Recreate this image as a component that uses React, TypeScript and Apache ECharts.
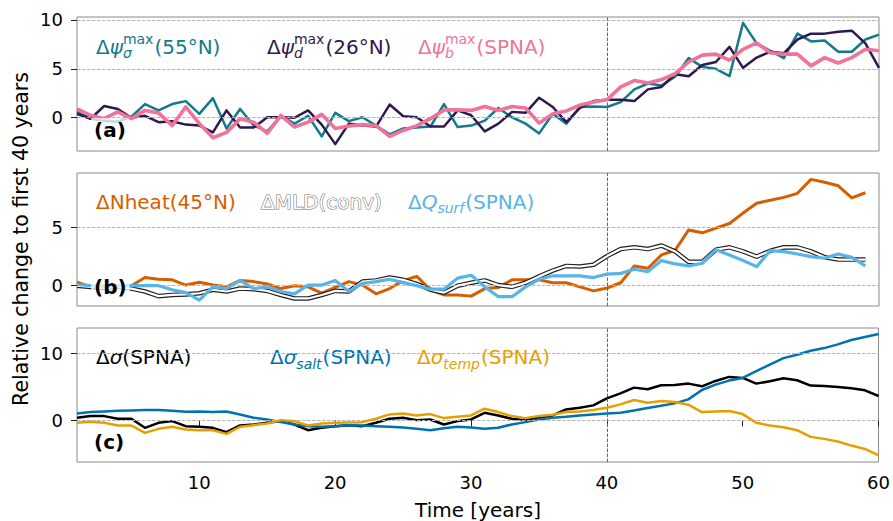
import React, { useEffect, useRef } from 'react';
import * as echarts from 'echarts';

// ---------- data (years 1..60) ----------
const xTicks = [10, 20, 30, 40, 50, 60];
const yTicksA = [0, 5, 10];
const yTicksB = [0, 5];
const yTicksC = [0, 10];
const splitYear = 40;

// panel (a)
const psiSigma = [0.6, -0.1, -0.3, -0.4, 0.1, 1.4, 0.75, 1.4, 1.7, 0.4, 2.0, -1.1, 0.9, -0.8, -1.4, 0.2, -0.6, 0.2, -1.9, 0.5,
  -0.35, 0.05, -0.8, -1.7, -1.1, -1.0, -0.9, 1.4, -0.95, -0.8, -0.3, 1.0, 0.05, -0.6, -1.6, 0.4, -0.6, 1.1, 1.15, 1.1,
  1.6, 2.9, 3.5, 3.3, 4.2, 6.1, 5.2, 5.0, 4.25, 9.7, 7.6, 6.85, 6.1, 8.6, 7.8, 7.9, 6.75, 6.75, 8.0, 8.5];
const psiD = [0.4, -0.1, 1.2, 0.9, 0.0, 0.2, -0.45, -0.35, -0.7, -0.8, -1.5, 0.75, -1.0, -1.0, 0.05, 0.05, 0.0, 0.75, -0.7, -2.7,
  -0.6, -0.8, -0.9, 1.35, 0.15, 0.05, -0.9, -0.9, 0.75, 0.25, -1.4, -0.6, 0.6, 0.5, 2.05, 1.1, -0.45, 1.0, 1.7, 1.85,
  1.85, 1.7, 2.9, 3.15, 4.45, 4.25, 5.4, 5.7, 7.25, 5.1, 6.15, 6.75, 6.6, 8.0, 8.6, 8.6, 8.8, 8.9, 7.6, 5.1];
const psiB = [0.9, 0.25, -0.1, 0.6, -0.1, 0.75, 0.5, -0.8, 1.1, -0.6, -2.05, -1.5, -0.1, -0.45, -1.6, 0.25, -0.95, -0.45, 0.35, -1.1,
  -0.85, -0.7, -0.8, -1.9, -1.3, -0.8, -0.1, 0.8, 0.8, 0.75, 1.15, 0.75, 1.15, 1.0, -0.55, 0.4, 0.7, 1.3, 1.6, 1.85,
  3.15, 3.8, 3.55, 3.9, 4.5, 5.7, 6.4, 6.5, 5.9, 7.0, 7.65, 6.65, 6.5, 6.5, 5.3, 6.15, 5.6, 6.15, 7.0, 6.85];

// panel (b) (years 1..59)
const nheat = [0.3, -0.1, 0.0, -0.1, 0.0, 0.7, 0.55, 0.5, 0.05, 0.3, 0.05, -0.1, 0.45, 0.35, 0.15, -0.25, 0.0, -0.1, -0.65, -0.15,
  0.35, 0.05, -0.7, -0.25, 0.45, 0.8, -0.35, -0.8, -0.8, -0.9, -0.25, -0.15, 0.5, 0.5, 0.5, 0.25, 0.25, -0.1, -0.45, -0.2,
  0.25, 1.7, 1.5, 2.65, 3.05, 4.8, 4.55, 4.95, 5.35, 6.25, 7.1, 7.35, 7.6, 7.95, 9.15, 8.9, 8.6, 7.55, 8.0];
const mld = [0.0, -0.1, -0.2, -0.1, -0.25, -0.5, -0.9, -0.8, -0.75, -0.65, -0.35, -0.5, -0.25, -0.3, -0.45, -0.8, -1.1, -1.1, -0.8, -0.45,
  -0.5, 0.35, 0.45, 0.7, 0.5, 0.15, -0.35, -0.6, 0.0, 0.25, 0.45, 0.05, -0.1, 0.25, 0.8, 1.3, 1.7, 1.65, 1.8, 2.55,
  3.15, 3.3, 3.15, 3.45, 2.95, 2.05, 2.05, 3.1, 3.3, 2.95, 2.5, 3.0, 3.3, 3.3, 2.95, 2.45, 2.25, 2.25, 2.25];
const qsurf = [0.1, 0.0, -0.1, 0.0, 0.0, 0.0, 0.0, -0.35, -0.6, -1.25, -0.1, -0.25, 0.45, -0.25, -0.1, -0.5, -0.7, 0.05, 0.05, 0.45,
  -0.5, 0.2, 0.35, 0.55, 0.25, 0.0, -0.3, -0.3, 0.65, 0.9, -0.1, -0.95, -0.95, -0.1, 0.55, 0.85, 0.85, 0.85, 0.7, 1.0,
  1.06, 1.41, 1.21, 2.16, 1.87, 1.7, 1.93, 3.1, 2.64, 2.16, 1.64, 3.02, 2.93, 2.73, 2.5, 2.36, 2.73, 2.44, 1.7];

// panel (c)
const sigma = [0.4, 0.65, 0.65, 0.25, 0.25, -1.1, -0.35, -0.1, -0.85, -0.95, -1.1, -1.75, -0.75, -0.6, -0.35, -0.1, -0.6, -1.45, -1.1, -0.85,
  -0.7, -0.85, -0.35, 0.25, 0.4, 0.05, 0.15, -0.6, -0.1, 0.15, 1.15, 0.75, 0.25, 0.05, 0.4, 0.75, 1.65, 1.9, 2.25, 3.3,
  4.05, 4.9, 4.65, 5.25, 5.3, 5.5, 5.1, 5.9, 6.5, 6.35, 5.5, 5.85, 6.3, 6.0, 5.2, 5.15, 5.0, 4.8, 4.5, 3.65];
const sigmaSalt = [1.05, 1.25, 1.35, 1.45, 1.5, 1.55, 1.55, 1.45, 1.3, 1.35, 1.25, 1.35, 0.9, 0.4, 0.15, -0.25, -0.6, -0.85, -0.95, -0.85,
  -0.7, -0.75, -0.85, -0.95, -1.05, -1.25, -1.45, -1.15, -0.95, -1.05, -1.25, -1.1, -0.6, -0.25, 0.15, 0.4, 0.55, 0.75, 0.9, 1.05,
  1.15, 1.5, 1.85, 2.2, 2.55, 3.15, 4.55, 5.35, 5.95, 6.35, 7.35, 8.35, 9.3, 9.8, 10.4, 10.8, 11.35, 12.0, 12.45, 12.9];
const sigmaTemp = [-0.35, -0.2, -0.35, -0.75, -0.75, -1.85, -1.25, -0.95, -1.35, -1.45, -1.45, -2.0, -0.95, -0.7, -0.45, 0.05, -0.1, -0.75, -0.45, -0.35,
  -0.3, -0.25, 0.25, 0.9, 1.05, 0.75, 0.95, 0.35, 0.55, 0.75, 1.75, 1.25, 0.65, 0.35, 0.65, 0.85, 1.25, 1.35, 1.55, 1.9,
  2.4, 3.05, 2.65, 2.9, 2.75, 2.35, 1.25, 1.35, 1.4, 0.95, -0.35, -0.75, -1.0, -1.45, -2.45, -2.75, -3.15, -3.75, -4.25, -5.2];

// ---------- styling ----------
const FONT = '"DejaVu Sans", sans-serif';
const C = {
  teal: '#127a8a', purple: '#2f1850', pink: '#f0739a',
  orange: '#d55e00', sky: '#56b4e9',
  black: '#000000', blue: '#0072b2', amber: '#e69f00',
};

let measureCtx: CanvasRenderingContext2D | null = null;
function tw(s: string, size: number, italic = false): number {
  if (!measureCtx) measureCtx = document.createElement('canvas').getContext('2d');
  if (!measureCtx) return s.length * size * 0.6;
  measureCtx.font = `${italic ? 'italic ' : ''}${size}px "DejaVu Sans"`;
  return measureCtx.measureText(s).width;
}

type Seg = { t?: string; it?: boolean; sub?: string; sup?: string; subIt?: boolean };
function legendText(x: number, y: number, color: string, segs: Seg[], extra: any = {}) {
  const MAIN = 20, SMALL = 14;
  const children: any[] = [];
  let cx = x;
  const mk = (text: string, px: number, py: number, size: number, italic: boolean) => ({
    type: 'text', x: px, y: py, silent: true,
    style: {
      text, fill: color, fontSize: size, fontFamily: FONT, fontStyle: italic ? 'italic' : 'normal',
      align: 'left', verticalAlign: 'middle', lineHeight: size, ...extra,
    },
  });
  for (const s of segs) {
    if (s.t) {
      children.push(mk(s.t, cx, y, MAIN, !!s.it));
      cx += tw(s.t, MAIN, !!s.it);
    } else {
      let w = 0;
      if (s.sup) { children.push(mk(s.sup, cx, y - 7.5, SMALL, false)); w = Math.max(w, tw(s.sup, SMALL)); }
      if (s.sub) { children.push(mk(s.sub, cx, y + 6.5, SMALL, !!s.subIt)); w = Math.max(w, tw(s.sub, SMALL, !!s.subIt)); }
      cx += w + 1;
    }
  }
  return { type: 'group', z: 100, children };
}

function panelLabel(text: string, x: number, y: number) {
  return {
    type: 'text', x, y, z: 100, silent: true,
    style: {
      text, fill: '#000', fontSize: 20, fontWeight: 'bold', fontFamily: FONT,
      align: 'left', verticalAlign: 'middle',
      backgroundColor: 'rgba(255,255,255,0.72)', padding: [2, 3, 2, 3],
    },
  };
}

const toPairs = (vals: number[]) => vals.map((v, i) => [i + 1, v]);

function lineSeries(name: string, vals: number[], gi: number, color: string, width: number, z: number) {
  return {
    type: 'line', name, xAxisIndex: gi, yAxisIndex: gi, data: toPairs(vals),
    showSymbol: false, symbol: 'none', silent: true, z,
    lineStyle: { color, width, join: 'round' },
  };
}

function gridLines(gi: number, ticks: number[]) {
  return {
    type: 'line', xAxisIndex: gi, yAxisIndex: gi, data: [], silent: true, z: 1,
    markLine: {
      silent: true, symbol: ['none', 'none'], label: { show: false }, animation: false,
      lineStyle: { color: '#b5b5b5', type: [3.5, 1.5], width: 1 },
      data: [
        ...ticks.map((v) => ({ yAxis: v })),
        { xAxis: splitYear, lineStyle: { color: '#666', type: [3.5, 1.5], width: 1 } },
      ],
    },
  };
}

export default function App() {
  const ref = useRef<HTMLDivElement>(null);
  useEffect(() => {
    document.body.style.margin = '0';
    if (!ref.current) return;
    const chart = echarts.init(ref.current, undefined, { renderer: 'svg' });
    const L = 77, R = 14;
    const grids = [
      { left: L, right: R, top: 17, height: 134 },
      { left: L, right: R, top: 173, height: 133 },
      { left: L, right: R, top: 328, height: 134 },
    ].map((g) => ({ ...g, show: true, borderColor: '#8a8a8a', borderWidth: 1, backgroundColor: 'transparent' }));

    const yRanges = [[-3.4, 10.3], [-1.75, 9.7], [-6.2, 13.8]];
    const yTicks = [yTicksA, yTicksB, yTicksC];

    const xAxes = [0, 1, 2].map((i) => ({
      type: 'value', gridIndex: i, min: 1, max: 60,
      axisLine: { show: false }, splitLine: { show: false },
      axisTick: i === 2 ? { show: true, customValues: xTicks, length: 6, lineStyle: { color: '#222' } } : { show: false },
      axisLabel: i === 2 ? { show: true, customValues: xTicks, fontSize: 18, color: '#000', margin: 11, fontFamily: FONT } : { show: false },
    }));
    const yAxes = [0, 1, 2].map((i) => ({
      type: 'value', gridIndex: i, min: yRanges[i][0], max: yRanges[i][1],
      axisLine: { show: false }, splitLine: { show: false },
      axisTick: { show: true, customValues: yTicks[i], length: 6, lineStyle: { color: '#222' } },
      axisLabel: { show: true, customValues: yTicks[i], fontSize: 18, color: '#000', margin: 14, fontFamily: FONT },
    }));

    const series: any[] = [
      gridLines(0, yTicksA), gridLines(1, yTicksB), gridLines(2, yTicksC),
      lineSeries('psiSigma', psiSigma, 0, C.teal, 2.5, 3),
      lineSeries('psiD', psiD, 0, C.purple, 2.5, 4),
      lineSeries('psiB', psiB, 0, C.pink, 3.6, 5),
      lineSeries('Nheat', nheat, 1, C.orange, 3, 3),
      lineSeries('MLD outline', mld, 1, '#222', 4.6, 4),
      lineSeries('MLD', mld, 1, '#ffffff', 2.2, 5),
      lineSeries('Qsurf', qsurf, 1, C.sky, 3.2, 6),
      lineSeries('sigma', sigma, 2, C.black, 2.5, 3),
      lineSeries('sigmaSalt', sigmaSalt, 2, C.blue, 2.5, 4),
      lineSeries('sigmaTemp', sigmaTemp, 2, C.amber, 2.5, 5),
    ];

    const graphic: any[] = [
      legendText(96, 46.7, C.teal, [{ t: 'Δ' }, { t: 'ψ', it: true }, { sup: 'max', sub: 'σ', subIt: true }, { t: '(55°N)' }]),
      legendText(267, 46.7, C.purple, [{ t: 'Δ' }, { t: 'ψ', it: true }, { sup: 'max', sub: 'd', subIt: true }, { t: '(26°N)' }]),
      legendText(418, 46.7, C.pink, [{ t: 'Δ' }, { t: 'ψ', it: true }, { sup: 'max', sub: 'b', subIt: true }, { t: '(SPNA)' }]),
      legendText(96, 201.7, C.orange, [{ t: 'ΔNheat(45°N)' }]),
      legendText(261, 201.7, '#ffffff', [{ t: 'ΔMLD(conv)' }], { stroke: '#707070', lineWidth: 1.1 }),
      legendText(408, 201.7, C.sky, [{ t: 'Δ' }, { t: 'Q', it: true }, { sub: 'surf', subIt: true }, { t: '(SPNA)' }]),
      legendText(96, 357.3, C.black, [{ t: 'Δ' }, { t: 'σ', it: true }, { t: '(SPNA)' }]),
      legendText(270, 357.3, C.blue, [{ t: 'Δ' }, { t: 'σ', it: true }, { sub: 'salt', subIt: true }, { t: '(SPNA)' }]),
      legendText(417, 357.3, C.amber, [{ t: 'Δ' }, { t: 'σ', it: true }, { sub: 'temp', subIt: true }, { t: '(SPNA)' }]),
      panelLabel('(a)', 91, 130),
      panelLabel('(b)', 91, 286.7),
      panelLabel('(c)', 91, 442),
      {
        type: 'text', x: 21, y: 239, rotation: Math.PI / 2, z: 100, silent: true,
        style: { text: 'Relative change to first 40 years', fill: '#000', fontSize: 20.5, fontFamily: FONT, align: 'center', verticalAlign: 'middle' },
      },
      {
        type: 'text', x: 478, y: 510, z: 100, silent: true,
        style: { text: 'Time [years]', fill: '#000', fontSize: 20, fontFamily: FONT, align: 'center', verticalAlign: 'middle' },
      },
    ];

    chart.setOption({
      animation: false,
      backgroundColor: '#ffffff',
      textStyle: { fontFamily: FONT },
      grid: grids,
      xAxis: xAxes,
      yAxis: yAxes,
      series,
      graphic,
    });
    return () => chart.dispose();
  }, []);
  return <div ref={ref} style={{ width: 893, height: 521 }} />;
}
